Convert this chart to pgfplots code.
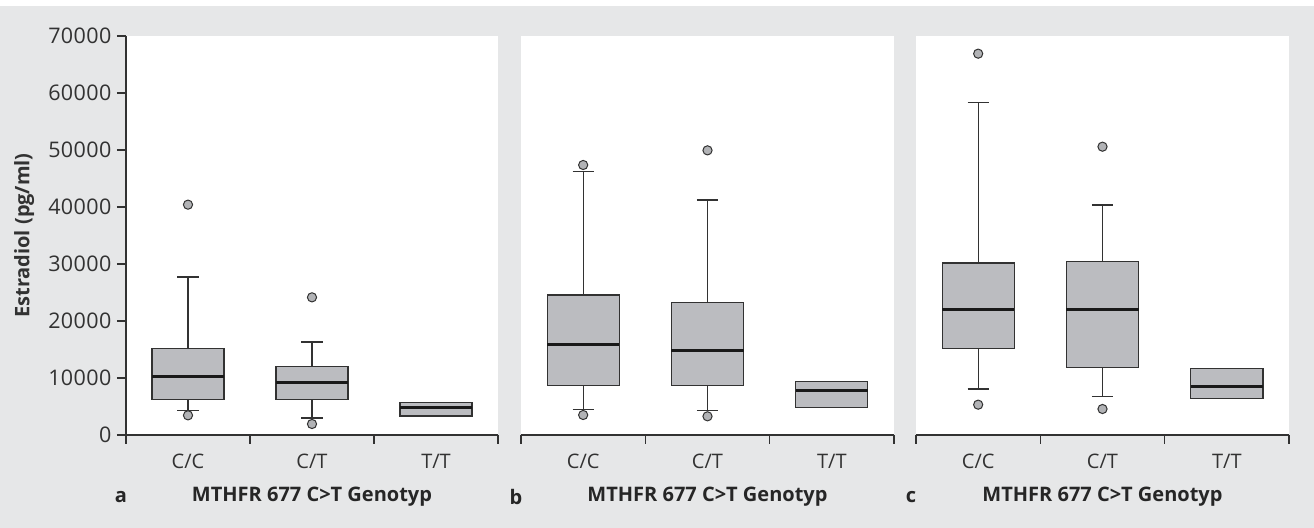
\documentclass[border=0pt]{standalone}
\usepackage{fontspec}
\setmainfont{Open Sans}
\usepackage{pgfplots}
\pgfplotsset{compat=1.18}
\usepgfplotslibrary{statistics}
\definecolor{bggray}{RGB}{230,231,232}
\definecolor{boxgray}{RGB}{187,188,192}
\definecolor{outgray}{RGB}{178,179,182}
\definecolor{linegray}{RGB}{50,50,50}
\newcommand\tfont{\fontsize{20bp}{24bp}\selectfont}
\newcommand\yfont{\fontsize{21.5bp}{26bp}\selectfont\addfontfeatures{LetterSpace=2}}
\newcommand\lfont{\fontsize{20bp}{24bp}\selectfont\bfseries}
\pgfplotsset{
  panel/.style={
    width=373bp, height=399bp, scale only axis,
    xmin=0.5, xmax=3.5, ymin=0, ymax=70000,
    axis background/.style={fill=white},
    axis x line*=bottom,
    axis line style={draw=linegray, line width=1.4bp},
    every tick/.style={draw=linegray, line width=1.4bp},
    tick align=outside,
    major tick length=9bp,
    xtick={0.5,1.5,2.5,3.5}, xticklabels={},
    extra x ticks={1,2,3},
    extra x tick labels={C/C,C/T,T/T},
    extra x tick style={major tick length=0pt, xticklabel style={anchor=center, yshift=-26bp}},
    tick label style={font=\tfont, text=linegray},
    /pgf/number format/assume math mode=true,
    /pgf/number format/1000 sep={},
    /pgf/number format/fixed,
    ytick={0,10000,20000,30000,40000,50000,60000,70000},
    yticklabel={\yfont\pgfmathprintnumber{\tick}},
    yticklabel style={font=\yfont, text=linegray, anchor=east, xshift=-2bp},
    scaled y ticks=false,
    boxplot/draw direction=y,
    boxplot/box extend=0.58,
    boxplot/whisker extend=0.17,
    boxplot/every box/.style={draw=linegray, fill=boxgray, line width=1.2bp},
    boxplot/every median/.style={draw=black!90, line width=3bp},
    boxplot/every whisker/.style={draw=linegray, line width=1.2bp},
    xlabel={MTHFR 677 C>T Genotyp},
    xlabel style={at={(axis description cs:0.5,-0.155)}, anchor=center, font=\lfont, text=black!85},
    clip=false,
  },
  bx/.style={mark=*, mark size=4.6bp, mark options={fill=outgray, draw=linegray, line width=1bp}},
}
\begin{document}
\begin{tikzpicture}
\fill[white] (0,0) rectangle (1314bp,528bp);
\fill[bggray] (0,0) rectangle (1314bp,522bp);

% Panel a
\begin{axis}[panel, at={(126bp,93bp)}, anchor=south west, width=372bp,
  axis y line*=left,
  ylabel={Estradiol (pg/ml)},
  ylabel style={at={(axis description cs:-0.274,0.5)}, anchor=center, font=\lfont, text=linegray},
]
\addplot[bx, boxplot prepared={draw position=1, median=10230, upper quartile=15140, lower quartile=6260, upper whisker=27720, lower whisker=4330}] coordinates {(1,40410) (1,3450)};
\addplot[bx, boxplot prepared={draw position=2, median=9240, upper quartile=12050, lower quartile=6200, upper whisker=16320, lower whisker=2980}] coordinates {(2,24150) (2,1930)};
\addplot[bx, boxplot prepared={draw position=3, median=4910, upper quartile=5670, lower quartile=3330, upper whisker=5670, lower whisker=3330}] coordinates {};
\node[font=\lfont, text=black!85] at (axis description cs:-0.0134,-0.155) {a};
\end{axis}

% Panel b
\begin{axis}[panel, at={(521bp,93bp)}, anchor=south west,
  axis y line=none,
]
\addplot[bx, boxplot prepared={draw position=1, median=15960, upper quartile=24560, lower quartile=8710, upper whisker=46260, lower whisker=4500}] coordinates {(1,47370) (1,3510)};
\addplot[bx, boxplot prepared={draw position=2, median=14800, upper quartile=23220, lower quartile=8710, upper whisker=41230, lower whisker=4270}] coordinates {(2,49940) (2,3280)};
\addplot[bx, boxplot prepared={draw position=3, median=7890, upper quartile=9410, lower quartile=4800, upper whisker=9410, lower whisker=4800}] coordinates {};
\node[font=\lfont, text=black!85] at (axis description cs:-0.0134,-0.155) {b};
\end{axis}

% Panel c
\begin{axis}[panel, at={(916bp,93bp)}, anchor=south west,
  axis y line=none,
]
\addplot[bx, boxplot prepared={draw position=1, median=22040, upper quartile=30180, lower quartile=15200, upper whisker=58360, lower whisker=8070}] coordinates {(1,66900) (1,5320)};
\addplot[bx, boxplot prepared={draw position=2, median=21930, upper quartile=30410, lower quartile=11810, upper whisker=40350, lower whisker=6720}] coordinates {(2,50580) (2,4560)};
\addplot[bx, boxplot prepared={draw position=3, median=8540, upper quartile=11700, lower quartile=6370, upper whisker=11700, lower whisker=6370}] coordinates {};
\node[font=\lfont, text=black!85] at (axis description cs:-0.0134,-0.155) {c};
\end{axis}

\pgfresetboundingbox
\useasboundingbox (0,0) rectangle (1314bp,528bp);
\end{tikzpicture}
\end{document}
